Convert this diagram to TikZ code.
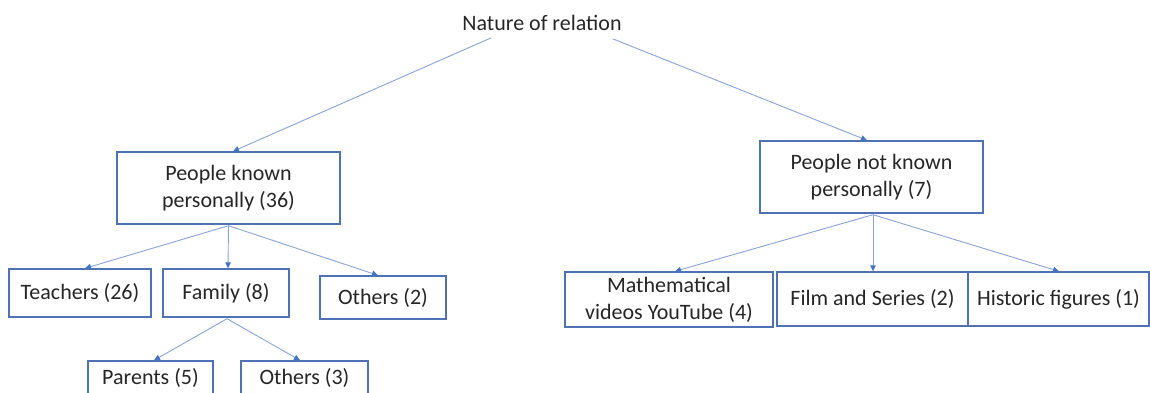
\documentclass[tikz,border=0pt]{standalone}
\usepackage{fontspec}
\setmainfont{Carlito}
\usetikzlibrary{arrows.meta}
\definecolor{boxblue}{HTML}{4F72B3}
\definecolor{linkblue}{HTML}{86A3DA}
\definecolor{tipblue}{HTML}{4472C4}
\definecolor{txt}{HTML}{262626}
\tikzset{
  catbox/.style={draw=boxblue, line width=1.4pt, fill=white, inner sep=0pt, align=center,
    text=txt, font=\fontsize{22}{27}\selectfont},
  link/.style={draw=linkblue, line width=0.9pt, -{Triangle[length=6pt,width=5.5pt,color=tipblue]}},
}
\begin{document}
\begin{tikzpicture}[x=1pt,y=-1pt]
\useasboundingbox (0,0) rectangle (1150,392);
\node[text=txt, font=\fontsize{22}{27}\selectfont, inner sep=0pt] (root) at (542,23) {Nature of relation};
\node[catbox, minimum width=223pt, minimum height=72pt] (pkp) at (228.5,188) {People known\\personally (36)};
\node[catbox, minimum width=223pt, minimum height=72pt] (pnkp) at (871.5,177) {People not known\\personally (7)};
\node[catbox, minimum width=142pt, minimum height=48pt] (teach) at (80,293) {Teachers (26)};
\node[catbox, minimum width=126pt, minimum height=48pt] (fam) at (226,293) {Family (8)};
\node[catbox, minimum width=126pt, minimum height=43pt] (oth2) at (383,297.5) {Others (2)};
\node[catbox, minimum width=125pt, minimum height=34pt] (par) at (150.5,378) {Parents (5)};
\node[catbox, minimum width=127pt, minimum height=34pt] (oth3) at (304.5,378) {Others (3)};
\node[catbox, minimum width=208pt, minimum height=55pt] (math) at (669,299.5) {Mathematical\\videos YouTube (4)};
\node[catbox, minimum width=191pt, minimum height=54pt] (film) at (872.5,299) {Film and Series (2)};
\node[catbox, minimum width=181pt, minimum height=54pt] (hist) at (1058.5,299) {Historic figures (1)};
\draw[link] ([xshift=-51pt,yshift=-7pt]root.south) -- ([xshift=4.5pt]pkp.north);
\draw[link] ([xshift=71pt,yshift=-8pt]root.south) -- ([xshift=-4.5pt]pnkp.north);
\draw[link] ([yshift=-1pt]pkp.south) -- ([xshift=5pt]teach.north);
\draw[link] ([yshift=-1pt]pkp.south) -- ([xshift=2pt]fam.north);
\draw[link] ([yshift=-1pt]pkp.south) -- ([xshift=-5pt]oth2.north);
\draw[link] ([xshift=1pt,yshift=-1pt]fam.south) -- ([xshift=3.5pt]par.north);
\draw[link] ([xshift=1pt,yshift=-1pt]fam.south) -- ([xshift=-4.5pt]oth3.north);
\draw[link] ([xshift=1.5pt,yshift=-1pt]pnkp.south) -- ([xshift=6pt]math.north);
\draw[link] ([xshift=1.5pt,yshift=-1pt]pnkp.south) -- ([xshift=0.5pt]film.north);
\draw[link] ([xshift=1.5pt,yshift=-1pt]pnkp.south) -- ([xshift=0.5pt]hist.north);
\end{tikzpicture}
\end{document}
